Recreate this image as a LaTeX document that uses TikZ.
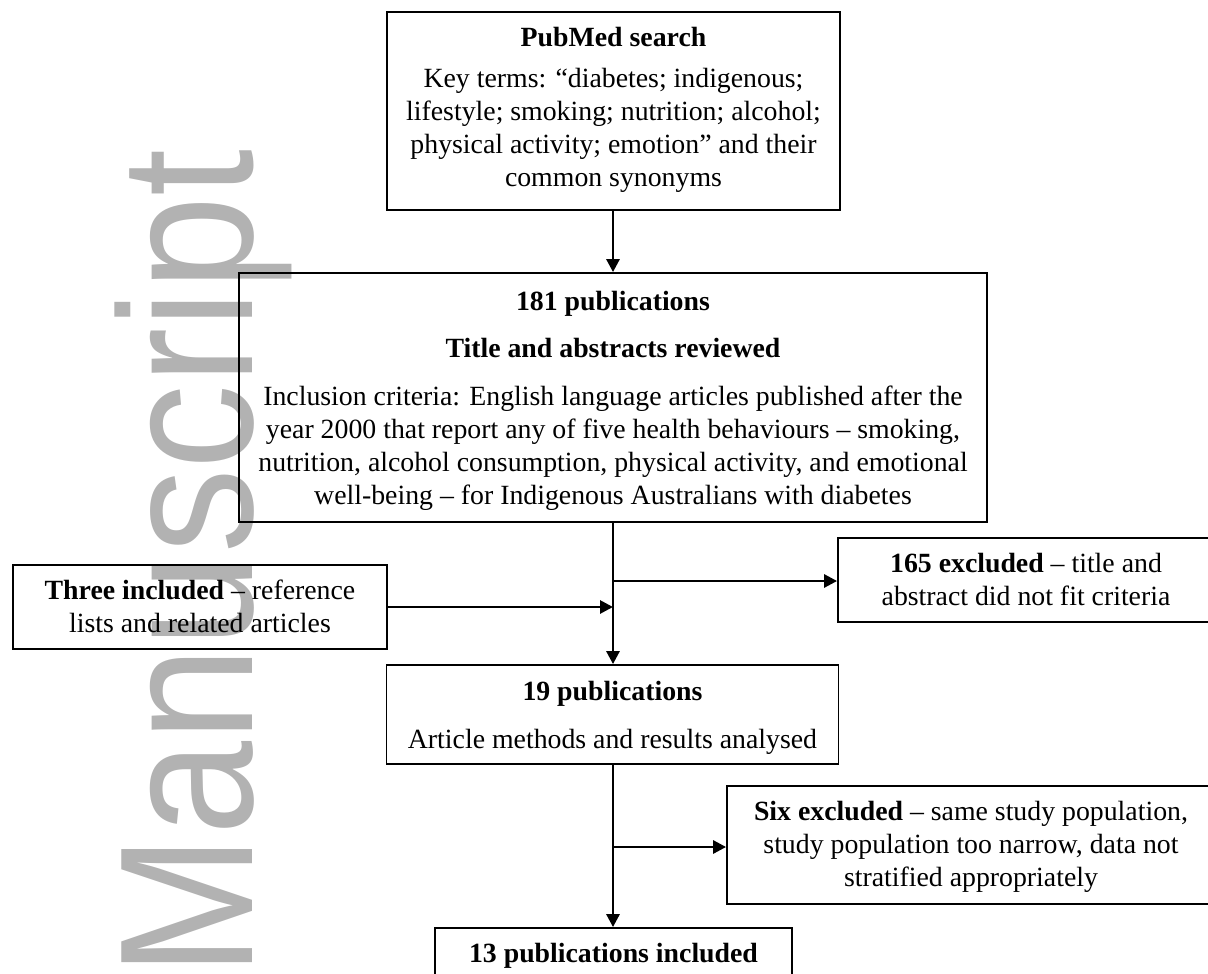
\documentclass[tikz,border=0pt]{standalone}
\usepackage{fontspec}
\setmainfont{Liberation Serif}
\newfontfamily\wmfont{Liberation Sans}
\usetikzlibrary{arrows.meta}
\definecolor{wmgray}{RGB}{178,178,178}
\begin{document}
\begin{tikzpicture}[x=1pt,y=-1pt,
  box/.style={draw=black, line width=1.8pt, inner sep=0pt},
  txt/.style={inner sep=0pt, anchor=base, font=\fontsize{27.8}{33}\selectfont},
  arr/.style={line width=2.8pt, -{Triangle[length=13pt,width=13pt]}}]
\useasboundingbox (0,0) rectangle (1208,974);
\clip (0,0) rectangle (1208,974);
% watermark
\node[rotate=90, anchor=base west, inner sep=0pt, text=wmgray,
      font=\wmfont\fontsize{190}{190}\selectfont] (wm) at (252,977) {\scalebox{0.89}[1]{Manuscript}};
% boxes
\node[box, minimum width=453pt, minimum height=198pt] (pub) at (613.5,111) {};
\node[box, minimum width=748pt, minimum height=249pt] (r181) at (613,397.5) {};
\node[box, minimum width=374pt, minimum height=84pt] (three) at (200,607) {};
\node[box, minimum width=376pt, minimum height=84pt] (ex165) at (1026,580) {};
\node[box, minimum width=452pt, minimum height=99pt] (n19) at (612.5,714.5) {};
\node[box, minimum width=488pt, minimum height=118pt] (six) at (971,845) {};
\node[box, minimum width=357pt, minimum height=80pt] (n13) at (613.5,968) {};
% texts
\node[txt] (pubt) at (613.5,47) {\parbox[t]{440pt}{\centering
  \textbf{PubMed search}\\[8pt]
  Key terms: “diabetes; indigenous;\\
  lifestyle; smoking; nutrition; alcohol;\\
  physical activity; emotion” and their\\
  common synonyms}};
\node[txt] (r181t) at (613,310) {\parbox[t]{740pt}{\centering
  \textbf{181 publications}\\[14pt]
  \textbf{Title and abstracts reviewed}\\[15pt]
  Inclusion criteria: English language articles published after the\\
  year 2000 that report any of five health behaviours – smoking,\\
  nutrition, alcohol consumption, physical activity, and emotional\\
  well-being – for Indigenous Australians with diabetes}};
\node[txt] (threet) at (200,599) {\parbox[t]{370pt}{\centering
  \textbf{Three included} – reference\\
  lists and related articles}};
\node[txt] (ex165t) at (1026,572) {\parbox[t]{370pt}{\centering
  \textbf{165 excluded} – title and\\
  abstract did not fit criteria}};
\node[txt] (n19t) at (612.5,700) {\parbox[t]{445pt}{\centering
  \textbf{19 publications}\\[15pt]
  Article methods and results analysed}};
\node[txt] (sixt) at (971,820) {\parbox[t]{480pt}{\centering
  \textbf{Six excluded} – same study population,\\
  study population too narrow, data not\\
  stratified appropriately}};
\node[txt] (n13t) at (613.5,962) {\textbf{13 publications included}};
% connectors
\coordinate (b1) at (613,581);
\coordinate (j1) at (613,607);
\coordinate (b2) at (613,847);
\draw[arr] (pub.south -| r181.north) -- (r181.north);
\draw[arr] (r181.south) -- (r181.south |- n19.north);
\draw[arr] (b1) -- (b1 -| ex165.west);
\draw[arr] (three.east) -- (j1);
\draw[arr] (b2) -- (b2 -| six.west);
\draw[arr] (n19.south -| r181.south) -- (r181.south |- n13.north);
\end{tikzpicture}
\end{document}
